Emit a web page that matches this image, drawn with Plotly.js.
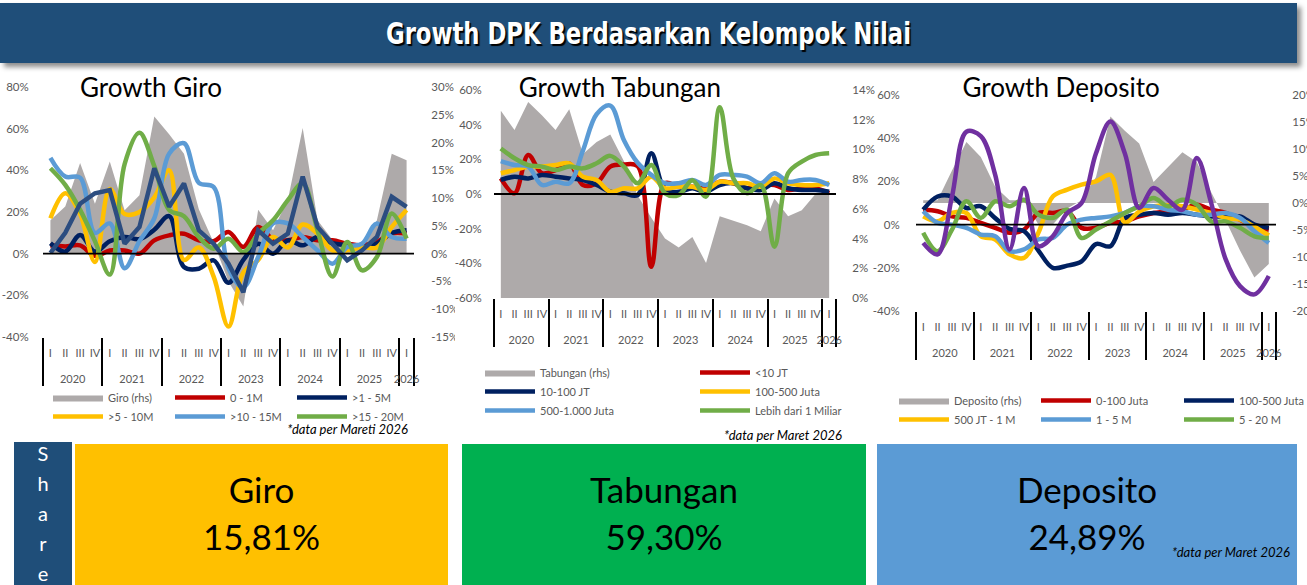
<!DOCTYPE html>
<html>
<head>
<meta charset="utf-8">
<script src="https://cdn.plot.ly/plotly-3.0.1.min.js"></script>
<style>
  html, body { margin:0; padding:0; }
  body { width:1307px; height:585px; overflow:hidden; background:#fff; position:relative; font-family:Lato, "Noto Sans", sans-serif; }
  #banner { position:absolute; left:0; top:3px; width:1297px; height:60px; background:#1F4E79; box-shadow:4px 4px 5px rgba(0,0,0,0.45); }
  #banner span { position:absolute; left:0; right:0; top:0; line-height:60px; text-align:center; color:#fff; font-family:"Liberation Sans Narrow","DejaVu Sans Condensed","Liberation Sans",sans-serif; font-weight:bold; font-size:31px; text-shadow:2px 2px 1px #000; transform:scaleX(0.815); transform-origin:50% 50%; }
  .chart { position:absolute; }
  #giro { left:0; top:70px; width:455px; height:370px; }
  #tab { left:450px; top:70px; width:430px; height:380px; }
  #dep { left:860px; top:70px; width:447px; height:370px; }
  .note { position:absolute; font-style:italic; font-size:13px; color:#000; white-space:nowrap; }
  .box { position:absolute; top:444px; height:141px; text-align:center; color:#000; font-size:35px; line-height:47px; }
  .box div { padding-top:22px; }
  #share { position:absolute; left:14px; top:442px; width:58px; height:143px; background:#1F4E79; color:#fff; font-size:20px; line-height:30px; text-align:center; }
  #share div { position:absolute; left:0; right:0; top:-4px; }
</style>
</head>
<body>
<div id="banner"><span>Growth DPK Berdasarkan Kelompok Nilai</span></div>
<div id="giro" class="chart"></div>
<div id="tab" class="chart"></div>
<div id="dep" class="chart"></div>
<div class="note" style="right:899px; top:421px;">*data per Mareti 2026</div>
<div class="note" style="right:465px; top:427px;">*data per Maret 2026</div>
<div id="share"><div>S<br>h<br>a<br>r<br>e</div></div>
<div class="box" style="left:75px; width:373px; background:#FFC000;"><div>Giro<br>15,81%</div></div>
<div class="box" style="left:462px; width:404px; background:#00B050;"><div>Tabungan<br>59,30%</div></div>
<div class="box" style="left:877px; width:420px; background:#5B9BD5;"><div>Deposito<br>24,89%</div></div>
<div class="note" style="right:17px; top:544px;">*data per Maret 2026</div>

<script>
// ---------- categories ----------
const years = ['2020','2021','2022','2023','2024','2025','2026'];
const quarters = ['I','II','III','IV'];
const nPeriods = 25; // 2020 Q1 .. 2026 Q1

// ---------- Growth Giro (%, yoy) ----------
const giroNames = ['Giro (rhs)','0 - 1M','&gt;1 - 5M','&gt;5 - 10M','&gt;10 - 15M','&gt;15 - 20M'];
const giroTotal  = [6, 8.5, 16.3, 9, 16.6, 7.8, 10.5, 24.7, 21.5, 18, 8, 2, -5, -9.5, 7.9, 4.2, 9.7, 22.6, 6, 2.5, 2, 1, 6, 18, 16.8];
const giro0_1M   = [4, 3.5, 4, -1, 1.5, 1.5, 0, 6.4, 8.8, 9.6, 6.4, 6, 10.4, 3.2, 12.8, 7, 6.4, 8, 6.4, 6.4, 4.8, 4, 5.6, 9.7, 9.7];
const giro1_5M   = [5, 1, 9, 1, 6, 8, 7, 11.5, 18, -6.4, -7.2, -3.2, -14, -3, 4.8, 0, 6.4, 4, 8, 5, 4, 3.2, 4.8, 10, 11.3];
const giro5_10M  = [17, 29, 19, -4, 31, 19, 20, 27, 40, -3, 3, -11, -35, -9, -3, 8, 3, 14, 9.6, 1.6, 1.6, 3, 3, 12.8, 21];
const giro10_15M = [46, 37, 36.5, 10, 14.5, -7, 6, 17, 48, 53, 34, 32, -7, -16, -1.6, 14.5, 14.5, 8, 1.6, -4.8, 3.2, 4.8, 14.5, 8, 7.2];
const giro15_20M = [41, 33, 21, 6, -10, 43, 58, 42, 21, 18, 8, 2.4, 7.2, 0.8, 9.6, 16, 25.7, 33.7, 11.2, -11, 5.6, -8, -1.6, 19.3, 7.2];
const giroOver20M= [0.3, 10, 24, 29, 30.5, 4.8, 12.8, 41, 22.5, 33.7, 11.2, 4.8, -4.8, -18.5, 11.2, 4.8, 9.6, 37, 12.8, 4.8, -3.2, 1.6, 8, 27.3, 22.5];
const giroLeftTicks  = [-40, -20, 0, 20, 40, 60, 80];
const giroRightTicks = [-15, -10, -5, 0, 5, 10, 15, 20, 25, 30];

// ---------- Growth Tabungan ----------
const tabNames = ['Tabungan (rhs)','&lt;10 JT','10-100 JT','100-500 Juta','500-1.000 Juta','Lebih dari 1 Miliar'];
const tabTotal   = [12.6, 11.3, 13.2, 12.3, 11.3, 12.7, 9.7, 10.5, 11, 9.2, 6.9, 5.4, 4.0, 3.4, 4.1, 2.35, 5.5, 5.2, 4.9, 4.5, 6.7, 5.5, 5.9, 7.0, 7.0];
const tabU10     = [9, 0.4, 22.5, 12, 13.8, 17.7, 5.2, 6.2, 15.8, 17, 16, -42, 6.2, 4.2, 4.2, 3.3, 7.1, 6.2, 3.3, 5.2, 5.2, 2.3, 3.3, 3.3, 0.4];
const tab10_100  = [8.1, 10, 9, 11, 10, 9, 8, 5.2, 1.3, 0.4, -0.6, 23.5, 2.3, 1.3, 3.3, 1.3, 5.2, 6.2, 3.3, 2.3, 6.2, 3.3, 2.3, 2.3, 1.3];
const tab100_500 = [12, 13.8, 15.8, 15.8, 16.7, 17.7, 10, 8.1, 1.3, 3.3, 3.3, 10, 3.3, 4.2, 4.2, 2.3, 7.1, 6.2, 6.2, 4.2, 9, 6.2, 5.2, 5.2, 6.2];
const tab500_1000= [19, 16.7, 15.8, 5.2, 7.1, 6.2, 25, 46, 51, 31, 18, 11, 6.2, 6.2, 8.1, 5.2, 11, 11, 10, 6.2, 12, 7.1, 8.1, 8.1, 5.2];
const tabOver1M  = [26.3, 20.6, 16.7, 15.8, 13.8, 15.8, 14.8, 17.7, 22, 15.8, 6.2, 16.7, 0.4, -0.6, 8, -1.5, 50, 9, 0.4, 5.2, -30.4, 12, 18.7, 22.5, 23.5];
const tabLeftTicks  = [-60, -40, -20, 0, 20, 40, 60];
const tabRightTicks = [0, 2, 4, 6, 8, 10, 12, 14];

// ---------- Growth Deposito ----------
const depNames = ['Deposito (rhs)','0-100 Juta','100-500 Juta','500 JT - 1 M','1 - 5 M','5 - 20 M'];
const depTotal   = [0.5, 0.5, 6, 11.3, 8.5, 3, 0.5, 0.5, -4, -4, -1, 0.5, 4.8, 16, 13.4, 11, 3.9, 6.7, 9.4, 7.6, 2, -3.2, -8.8, -13.8, -11.3];
const dep0_100   = [6.9, 6.2, 3.8, 3.1, 0.8, -1.5, -3.8, -2.3, 5.4, 5.4, 6.2, -1.5, -1.5, 0.8, 1.5, 3.8, 5.4, 6.2, 6.9, 9.2, 6.9, 5.4, 2.3, -0.8, -2.3];
const dep100_500 = [6.9, 13, 13, 7.7, 8.5, 3, -2, -3, -12, -20, -19, -17, -9, -10, 3, 4.6, 5.4, 4.6, 5.4, 4.6, 3.8, 3.8, 3.8, 0, -1.5];
const dep500_1M  = [3.8, 1.5, 5.4, 5.4, -5.4, -6.9, -13.8, -15.4, -3.8, 13, 16.2, 18.5, 20, 23, 1, 6, 8.5, 9, 8.5, 7, 5.4, 3, 2.3, -1, -5];
const dep1_5M    = [6.2, 0.8, 0, -1.5, -4.6, -5.4, -12.3, -11.5, -6.9, -6.2, 0, 2.3, 3.1, 3.8, 5.4, 8.5, 8.5, 6.9, 6.2, 4.6, 4.6, 5.4, 3.1, -3.1, -8.5];
const dep5_20M   = [-3.8, -12.3, -2.3, 10.8, 3.1, 10.8, 8.5, 11.5, 4.6, 3.1, 6.9, -6.2, -2.3, 1.5, 5.4, 8.5, 12.3, 8.5, 11.5, 9.2, 1.5, 1.5, -1.5, -5.4, -6.2];
const depOver20M = [-8.5, -13.8, 13, 43, 41, 23, -11.5, 16.9, -10, -5.4, 5.4, 10, 33, 47.7, 33, 7.7, 16.9, 11.5, 6.9, 30.8, 10, -16, -28.5, -32.3, -23.8];
const depLeftTicks  = [-40, -20, 0, 20, 40, 60];
const depRightTicks = [-20, -15, -10, -5, 0, 5, 10, 15, 20];

// ---------- styling ----------
const FONT = 'Lato, "Noto Sans", sans-serif';
const C = { gray:'#AEAAAA', red:'#C00000', navy:'#002060', yellow:'#FFC000', lblue:'#5B9BD5', green:'#70AD47', slate:'#2C4D80', purple:'#7030A0' };

// two-level category axis: year (outer) / quarter (inner, padded with an empty second line for spacing)
const xCat = [[], []];
for (let i = 0; i < nPeriods; i++) {
  xCat[0].push(years[Math.floor(i / 4)]);
  xCat[1].push(quarters[i % 4] + '<br><span style="font-size:26px">\u00a0</span>');
}
const pct = v => v + '%';

function areaTrace(name, y, legend) {
  return { type:'scatter', mode:'lines', x:xCat, y:y, name:name, yaxis:'y', fill:'tozeroy',
           fillcolor:C.gray, line:{ width:0, color:C.gray }, legend:legend, hoverinfo:'skip' };
}
function lineTrace(name, y, color, legend, shape, show) {
  return { type:'scatter', mode:'lines', x:xCat, y:y, name:name, yaxis:'y2',
           line:{ color:color, width:4.5, shape:shape || 'spline', smoothing:1 },
           legend:legend, showlegend: show !== false, hoverinfo:'skip' };
}
function legendCol(x, y) {
  return { orientation:'v', xref:'container', yref:'container', x:x, y:y, xanchor:'left', yanchor:'top',
           itemwidth:50, bgcolor:'rgba(0,0,0,0)', borderwidth:0,
           font:{ family:FONT, size:11, color:'#595959' }, traceorder:'normal' };
}
function makeLayout(o) {
  const lay = {
    width:o.w, height:o.h,
    margin:{ l:o.l, r:o.r, t:o.t, b:o.b, autoexpand:false },
    paper_bgcolor:'rgba(0,0,0,0)', plot_bgcolor:'rgba(0,0,0,0)',
    font:{ family:FONT, size:11, color:'#595959' },
    showlegend:true,
    title:{ text:o.title, font:{ family:FONT, size:26, color:'#000' }, x:o.titleX, xref:'paper', xanchor:'center',
            y:o.titleY, yref:'container', yanchor:'middle' },
    xaxis:{ type:'multicategory', range:[-0.5, nPeriods - 0.5], showdividers:true, dividercolor:'#000', dividerwidth:2,
            showgrid:false, zeroline:false, showline:false, ticks:'', tickangle:0, ticklabelstandoff:8,
            tickfont:{ family:FONT, size:11, color:'#595959' } },
    yaxis:{ side:'right', range:o.rRange, tickvals:o.rTicks, ticktext:o.rTicks.map(pct), showgrid:false, zeroline:false,
            showline:false, ticks:'outside', ticklen:o.rGap, tickcolor:'rgba(0,0,0,0)',
            tickfont:{ family:FONT, size:11.5, color:'#595959' } },
    yaxis2:{ overlaying:'y', side:'left', range:o.lRange, tickvals:o.lTicks, ticktext:o.lTicks.map(pct), showgrid:false,
             zeroline:false, showline:false, ticks:'outside', ticklen:o.lGap, tickcolor:'rgba(0,0,0,0)',
             tickfont:{ family:FONT, size:11.5, color:'#595959' } },
    shapes:[{ type:'line', xref:'x domain', x0:0, x1:1, yref:'y2', y0:0, y1:0, layer:'above', line:{ color:'#000', width:1.8 } }]
  };
  o.legends.forEach((lg, k) => { lay[k === 0 ? 'legend' : 'legend' + (k + 1)] = lg; });
  return lay;
}
const cfg = { staticPlot:true, displayModeBar:false };

// ---- Giro ----
Plotly.newPlot('giro', [
  areaTrace(giroNames[0], giroTotal, 'legend'),
  lineTrace(giroNames[1], giro0_1M, C.red, 'legend2'),
  lineTrace(giroNames[2], giro1_5M, C.navy, 'legend3'),
  lineTrace(giroNames[3], giro5_10M, C.yellow, 'legend'),
  lineTrace(giroNames[4], giro10_15M, C.lblue, 'legend2'),
  lineTrace(giroNames[5], giro15_20M, C.green, 'legend3'),
  lineTrace('&gt;20M', giroOver20M, C.slate, 'legend3', 'linear', false)
], makeLayout({
  w:455, h:370, l:43, r:41, t:17, b:103, title:'Growth Giro', titleX:0.291, titleY:1 - 18/370,
  rRange:[-15, 30], rTicks:giroRightTicks, rGap:14, lRange:[-40, 80], lTicks:giroLeftTicks, lGap:11,
  legends:[ legendCol(48/455, 1 - 313/370), legendCol(170/455, 1 - 313/370), legendCol(292/455, 1 - 313/370) ]
}), cfg);

// ---- Tabungan ----
Plotly.newPlot('tab', [
  areaTrace(tabNames[0], tabTotal, 'legend'),
  lineTrace(tabNames[1], tabU10, C.red, 'legend2'),
  lineTrace(tabNames[2], tab10_100, C.navy, 'legend'),
  lineTrace(tabNames[3], tab100_500, C.yellow, 'legend2'),
  lineTrace(tabNames[4], tab500_1000, C.lblue, 'legend'),
  lineTrace(tabNames[5], tabOver1M, C.green, 'legend2')
], makeLayout({
  w:430, h:380, l:44, r:44, t:20, b:152, title:'Growth Tabungan', titleX:0.368, titleY:1 - 18/380,
  rRange:[0, 14], rTicks:tabRightTicks, rGap:13, lRange:[-60, 60], lTicks:tabLeftTicks, lGap:9,
  legends:[ legendCol(30/430, 1 - 288/380), legendCol(245/430, 1 - 288/380) ]
}), cfg);

// ---- Deposito ----
Plotly.newPlot('dep', [
  areaTrace(depNames[0], depTotal, 'legend'),
  lineTrace(depNames[1], dep0_100, C.red, 'legend2'),
  lineTrace(depNames[2], dep100_500, C.navy, 'legend3'),
  lineTrace(depNames[3], dep500_1M, C.yellow, 'legend'),
  lineTrace(depNames[4], dep1_5M, C.lblue, 'legend2'),
  lineTrace(depNames[5], dep5_20M, C.green, 'legend3'),
  lineTrace('&gt;20 M', depOver20M, C.purple, 'legend3', 'spline', false)
], makeLayout({
  w:447, h:370, l:56, r:31, t:25, b:129, title:'Growth Deposito', titleX:0.403, titleY:1 - 18/370,
  rRange:[-20, 20], rTicks:depRightTicks, rGap:13, lRange:[-40, 60], lTicks:depLeftTicks, lGap:13,
  legends:[ legendCol(34/447, 1 - 316/370), legendCol(176/447, 1 - 316/370), legendCol(319/447, 1 - 316/370) ]
}), cfg);
</script>
</body>
</html>
